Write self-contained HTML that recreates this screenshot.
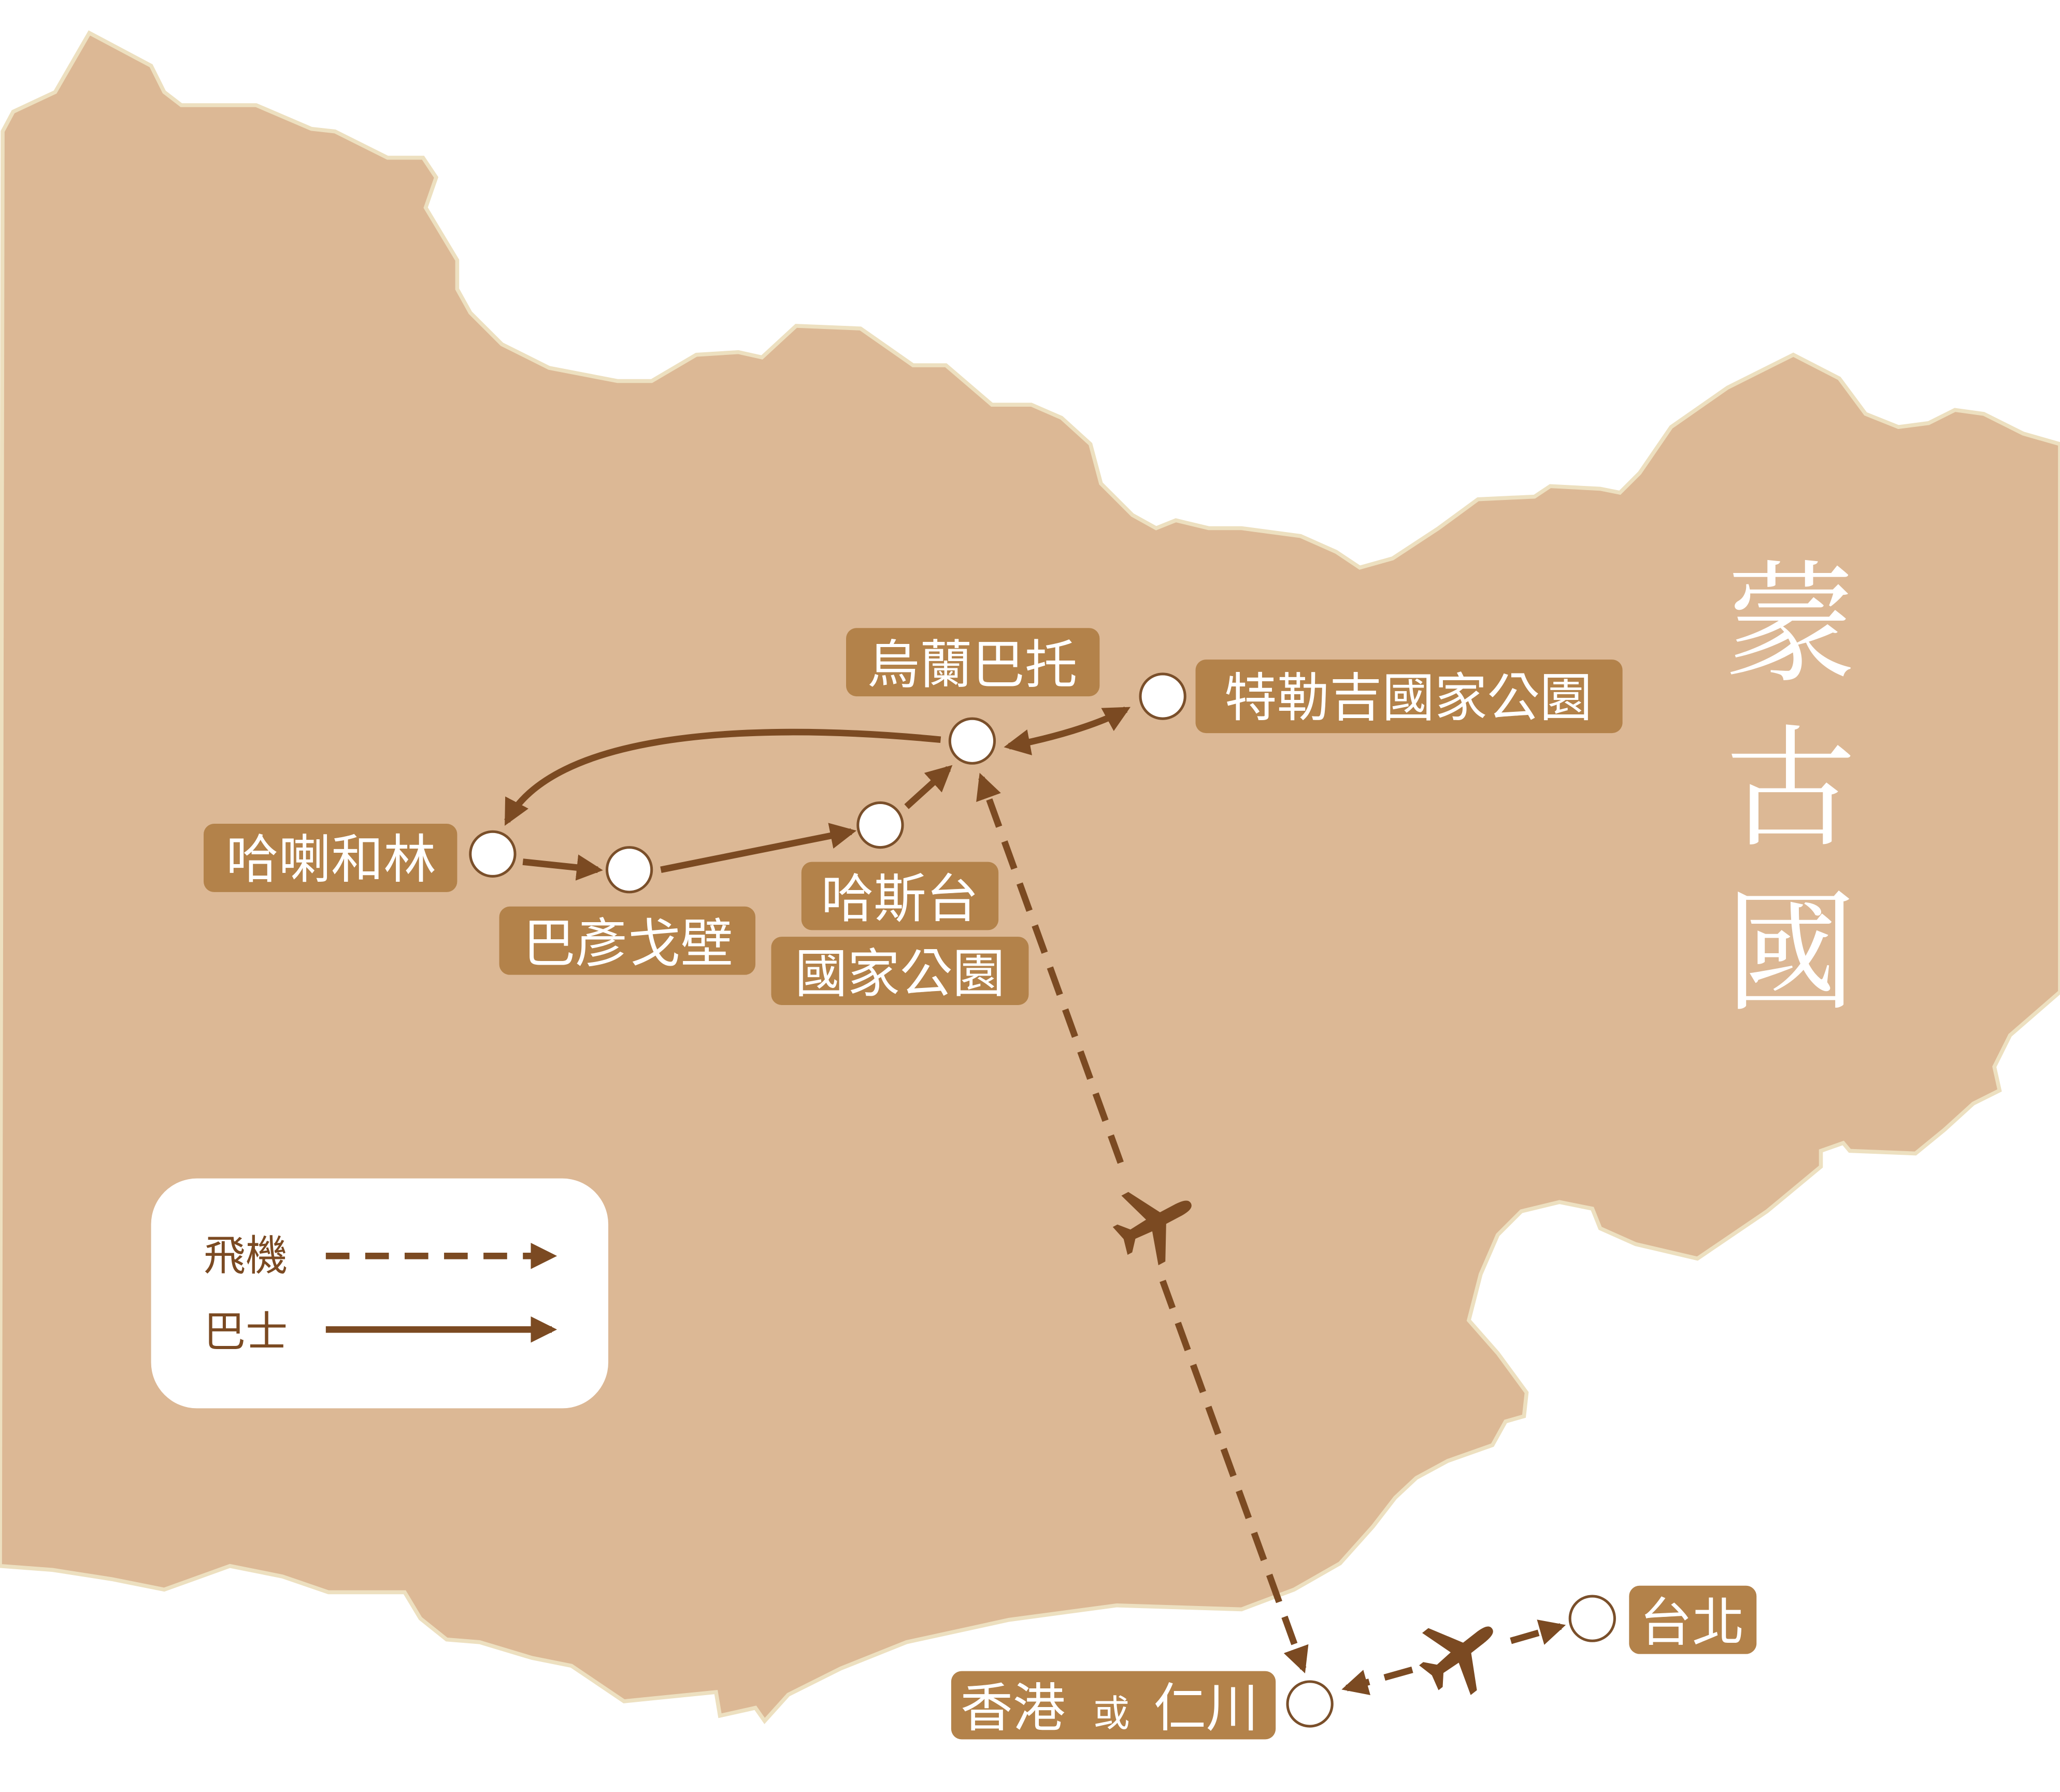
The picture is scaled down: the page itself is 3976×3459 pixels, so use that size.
<!DOCTYPE html>
<html><head><meta charset="utf-8"><style>
html,body{margin:0;padding:0;background:#fff;}
svg{display:block;}
.lb{fill:#b3824a;}
.t{fill:#fff;font-family:"Liberation Sans","Noto Sans CJK TC",sans-serif;font-weight:normal;}
.c{fill:#fff;stroke:#7a4f2a;stroke-width:2;}
.a{stroke:#7b4a22;stroke-width:5;fill:none;}
</style></head><body>
<svg width="3976" height="3459" viewBox="0 0 1568 1364" xmlns="http://www.w3.org/2000/svg">
<defs>
<marker id="ah" viewBox="0 0 10 10" refX="8" refY="5" markerWidth="4" markerHeight="4" orient="auto-start-reverse"><path d="M0,0L10,5L0,10z" fill="#7b4a22"/></marker>
<g id="plane"><path d="M0,-30 C4,-30 5,-25 5,-18 L5,-6 L30,8 L30,14 L5,6 L4,20 L12,27 L12,31 L0,28 L-12,31 L-12,27 L-4,20 L-5,6 L-30,14 L-30,8 L-5,-6 L-5,-18 C-5,-25 -4,-30 0,-30z" fill="#7b4a22"/></g>
</defs>
<path d="M2,100 L10,85 L42,70 L68,25 L115,50 L125,70 L138,80 L195,80 L237,98 L255,100 L295,120 L322,120 L332,135 L324,158 L348,198 L348,220 L358,238 L382,262 L418,280 L470,290 L496,290 L530,270 L562,268 L580,272 L606,248 L655,250 L695,278 L720,278 L755,308 L785,308 L808,318 L830,338 L838,368 L862,392 L880,402 L895,396 L920,402 L945,402 L990,408 L1017,420 L1035,432 L1060,425 L1095,402 L1125,380 L1168,378 L1180,370 L1218,372 L1233,375 L1248,360 L1272,325 L1315,295 L1365,270 L1400,288 L1420,315 L1445,325 L1468,322 L1488,312 L1510,315 L1540,330 L1568,338 L1568,755 L1530,788 L1518,812 L1522,830 L1502,840 L1480,860 L1458,878 L1408,876 L1403,870 L1386,876 L1386,888 L1345,922 L1292,958 L1245,947 L1218,935 L1212,920 L1187,915 L1158,922 L1140,940 L1127,970 L1118,1005 L1140,1030 L1162,1060 L1160,1078 L1146,1082 L1136,1100 L1102,1112 L1078,1125 L1062,1140 L1045,1162 L1020,1190 L985,1210 L945,1225 L850,1222 L768,1233 L690,1250 L640,1270 L600,1290 L582,1310 L575,1300 L548,1306 L545,1288 L475,1295 L435,1268 L405,1262 L365,1250 L340,1248 L320,1232 L308,1212 L250,1212 L215,1200 L175,1192 L125,1210 L85,1202 L40,1195 L0,1192 Z" fill="#dcb895" stroke="#ede0c0" stroke-width="3"/>
<g font-family="'Liberation Serif','Noto Serif CJK SC',serif" font-size="100" fill="#fff" text-anchor="middle">
<text x="1363" y="510">蒙</text><text x="1363" y="635">古</text><text x="1363" y="760">國</text>
</g>
<rect x="115" y="897" width="348" height="175" rx="35" fill="#fff"/>
<text x="155" y="967" font-size="32" fill="#7b4a22" font-family="'Liberation Sans','Noto Sans CJK TC',sans-serif">飛機</text>
<text x="155" y="1025" font-size="32" fill="#7b4a22" font-family="'Liberation Sans','Noto Sans CJK TC',sans-serif">巴士</text>
<line x1="248" y1="956" x2="420" y2="956" class="a" stroke-dasharray="18,12" marker-end="url(#ah)"/>
<line x1="248" y1="1012" x2="420" y2="1012" class="a" marker-end="url(#ah)"/>
<path d="M716,563 C560,548 420,560 386,625" class="a" marker-end="url(#ah)"/>
<line x1="398" y1="656" x2="455" y2="662" class="a" marker-end="url(#ah)"/>
<line x1="503" y1="662" x2="648" y2="633" class="a" marker-end="url(#ah)"/>
<line x1="690" y1="614" x2="722" y2="585" class="a" marker-end="url(#ah)"/>
<path d="M768,568 C800,562 835,552 857,540" class="a" marker-start="url(#ah)" marker-end="url(#ah)"/>
<line x1="853" y1="885" x2="747" y2="592" class="a" stroke-dasharray="22,12" marker-end="url(#ah)"/>
<line x1="885" y1="975" x2="992" y2="1270" class="a" stroke-dasharray="22,12" marker-end="url(#ah)"/>
<use href="#plane" transform="translate(880,930) rotate(62)"/>
<line x1="1075" y1="1271" x2="1025" y2="1285" class="a" stroke-dasharray="22,12" marker-end="url(#ah)"/>
<line x1="1150" y1="1249" x2="1188" y2="1238" class="a" stroke-dasharray="22,12" marker-end="url(#ah)"/>
<use href="#plane" transform="translate(1112,1258) rotate(52)"/>
<circle class="c" cx="375" cy="650" r="17"/>
<circle class="c" cx="479" cy="662" r="17"/>
<circle class="c" cx="670" cy="628" r="17"/>
<circle class="c" cx="740" cy="564" r="17"/>
<circle class="c" cx="885" cy="530" r="17"/>
<circle class="c" cx="997" cy="1297" r="17"/>
<circle class="c" cx="1212" cy="1232" r="17"/>
<g font-size="40">
<rect class="lb" x="644" y="478" width="193" height="52" rx="8"/><text class="t" x="740" y="520" text-anchor="middle">烏蘭巴托</text>
<rect class="lb" x="910" y="502" width="325" height="56" rx="8"/><text class="t" x="1072" y="545" text-anchor="middle">特勒吉國家公園</text>
<rect class="lb" x="155" y="627" width="193" height="52" rx="8"/><text class="t" x="252" y="668" text-anchor="middle">哈喇和林</text>
<rect class="lb" x="380" y="690" width="195" height="52" rx="8"/><text class="t" x="478" y="732" text-anchor="middle">巴彥戈壁</text>
<rect class="lb" x="610" y="656" width="150" height="52" rx="8"/><text class="t" x="685" y="698" text-anchor="middle">哈斯台</text>
<rect class="lb" x="587" y="713" width="196" height="52" rx="8"/><text class="t" x="685" y="755" text-anchor="middle">國家公園</text>
<rect class="lb" x="1240" y="1207" width="97" height="52" rx="8"/><text class="t" x="1288" y="1249" text-anchor="middle">台北</text>
<rect class="lb" x="724" y="1272" width="247" height="52" rx="8"/>
<text class="t" x="731" y="1314">香港</text><text class="t" x="832" y="1314" font-size="28">或</text><text class="t" x="878" y="1314">仁川</text>
</g>
</svg>
</body></html>
